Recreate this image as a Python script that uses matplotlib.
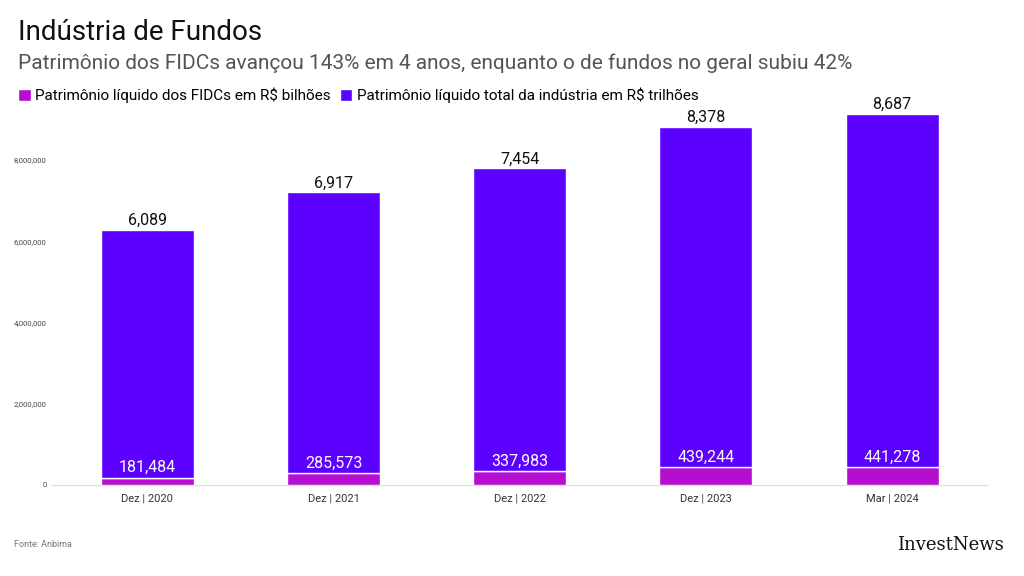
import matplotlib
matplotlib.use("Agg")
import matplotlib.pyplot as plt
from matplotlib.ticker import FuncFormatter

periods = ['Dez | 2020', 'Dez | 2021', 'Dez | 2022', 'Dez | 2023', 'Mar | 2024']
fidc = [181484, 285573, 337983, 439244, 441278]          # R$ bilhões
total = [6089, 6917, 7454, 8378, 8687]                   # R$ trilhões

c_fidc = '#b40fcf'
c_total = '#5c00ff'
plt.rcParams['font.family'] = ['Roboto', 'DejaVu Sans']

fig = plt.figure(figsize=(10.24, 5.76), dpi=100)
ax = fig.add_axes([0.051, 0.158, 0.913, 0.651])
x = range(len(periods))
total_scaled = [t * 1000 for t in total]
ax.bar(x, fidc, width=0.5, color=c_fidc, edgecolor='white', linewidth=1,
       label='Patrimônio líquido dos FIDCs em R$ bilhões')
ax.bar(x, total_scaled, bottom=fidc, width=0.5, color=c_total, edgecolor='white', linewidth=1,
       label='Patrimônio líquido total da indústria em R$ trilhões')
for i in x:
    ax.text(i, fidc[i] + 60000, f'{fidc[i]:,}', ha='center', va='bottom', color='white', fontsize=11.5)
    ax.text(i, fidc[i] + total_scaled[i] + 50000, f'{total[i]:,}', ha='center', va='bottom',
            color='#111111', fontsize=11.5)

ax.set_xlim(-0.51, 4.51)
ax.set_ylim(0, 9230000)
ax.set_yticks([0, 2000000, 4000000, 6000000, 8000000])
ax.yaxis.set_major_formatter(FuncFormatter(lambda v, p: f'{int(v):,}'))
ax.set_xticks(list(x))
ax.set_xticklabels(periods)
ax.tick_params(axis='y', labelsize=5.5, colors='#444444', length=0, pad=4)
ax.tick_params(axis='x', labelsize=8, colors='#333333', length=0, pad=6)
for s in ['top', 'right', 'left']:
    ax.spines[s].set_visible(False)
ax.spines['bottom'].set_color('#dddddd')

fig.text(0.018, 0.93, 'Indústria de Fundos', fontsize=20, color='#111111', va='baseline')
fig.text(0.018, 0.88, 'Patrimônio dos FIDCs avançou 143% em 4 anos, enquanto o de fundos no geral subiu 42%',
         fontsize=15, color='#555555', va='baseline')
fig.legend(loc='upper left', bbox_to_anchor=(0.012, 0.858), ncol=2, frameon=False, fontsize=11,
           handlelength=0.8, handleheight=0.9, handletextpad=0.3, columnspacing=0.6, borderaxespad=0)
fig.text(0.014, 0.05, 'Fonte: Anbima', fontsize=6.5, color='#777777')
fig.text(0.98, 0.045, 'InvestNews', fontsize=13, color='#111111', ha='right', family='DejaVu Serif')
fig.savefig('out.png', dpi=100)
